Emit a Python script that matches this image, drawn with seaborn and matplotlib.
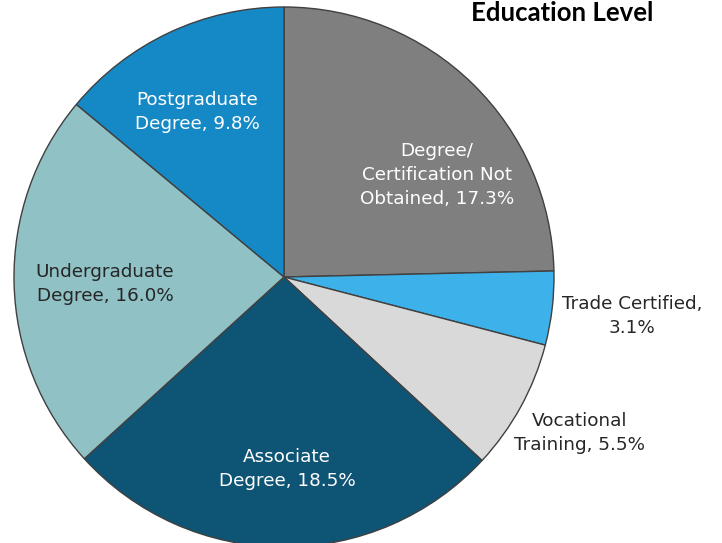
import matplotlib
matplotlib.use("Agg")
import matplotlib.pyplot as plt
import seaborn as sns

# pie data, clockwise from 12 o'clock
labels = ["Degree/\nCertification Not\nObtained", "Trade Certified,\n", "Vocational\nTraining",
          "Associate\nDegree", "Undergraduate\nDegree", "Postgraduate\nDegree"]
values = [17.3, 3.1, 5.5, 18.5, 16.0, 9.8]
colors = ["#7f7f7f", "#3db1e9", "#d9d9d9", "#0e5475", "#8fc1c5", "#1589c6"]
text_colors = ["white", "#262626", "#262626", "white", "#262626", "white"]

# label anchors, in pie-radius units
label_pos = [(0.567, 0.378), (1.289, -0.144), (1.096, -0.578),
             (0.011, -0.711), (-0.663, -0.026), (-0.322, 0.611)]

sns.set_theme(style="white")
plt.rcParams['font.family'] = ['DejaVu Sans']

fig = plt.figure(figsize=(7.22, 5.43), dpi=100)
ax = fig.add_axes([0, 0, 1, 1])

wedges, _ = ax.pie(values, colors=colors, startangle=90, counterclock=False,
                   wedgeprops=dict(edgecolor="#404040", linewidth=1.0))

for lab, val, (x, y), tc in zip(labels, values, label_pos, text_colors):
    if lab.endswith(",\n"):
        txt = f"{lab}{val:.1f}%"
    else:
        txt = f"{lab}, {val:.1f}%"
    ax.text(x, y, txt, ha="center", va="center", fontsize=13.2,
            color=tc, linespacing=1.45)

ax.set_xlim(-284 / 270, (722 - 284) / 270)
ax.set_ylim(-(543 - 277) / 270, 277 / 270)
ax.set_aspect("auto")
ax.axis("off")

fig.text(562 / 722, 1 - 13 / 543, "Education Level", ha="center", va="center",
         fontsize=18.5, fontweight="bold", family=["Lato", "DejaVu Sans"], color="black")

fig.savefig("out.png", dpi=100)
